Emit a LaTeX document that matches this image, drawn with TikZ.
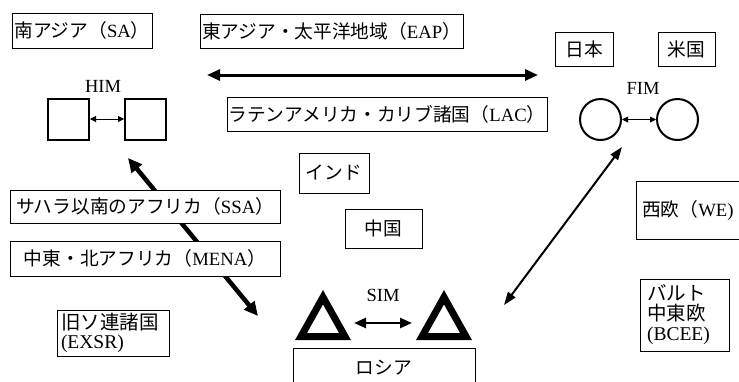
\documentclass[tikz,border=0pt]{standalone}
\usepackage{fontspec}
\setmainfont{Liberation Serif}
\newfontfamily\jp{Noto Sans CJK JP}
\usetikzlibrary{arrows.meta}
\newcommand\J[1]{{\jp #1}}
\begin{document}
\begin{tikzpicture}[x=1pt,y=-1pt,
  box/.style={draw, line width=0.9pt, fill=white, inner sep=0pt, font=\fontsize{18.7}{20}\selectfont},
  mbox/.style={box, font=\fontsize{19.5}{20}\selectfont},
  lbl/.style={inner sep=0pt, font=\fontsize{18.5}{20}\selectfont},
  sq/.style={draw, line width=2pt, minimum width=41pt, minimum height=41pt, inner sep=0pt},
  circ/.style={draw, circle, line width=2pt, minimum size=41pt, inner sep=0pt},
  tri/.style={line width=7pt, line join=miter},
  small/.style={line width=0.8pt, {Triangle[length=6pt,width=6pt]}-{Triangle[length=6pt,width=6pt]}},
  longarrow/.style={line width=3pt, {Triangle[length=13pt,width=11pt]}-{Triangle[length=13pt,width=11pt]}},
  himarrow/.style={line width=4.5pt, {Triangle[length=14pt,width=13pt]}-{Triangle[length=14pt,width=13pt]}},
  fimarrow/.style={line width=2pt, {Triangle[length=13pt,width=9pt]}-{Triangle[length=13pt,width=9pt]}},
  simarrow/.style={line width=2.5pt, {Triangle[length=12pt,width=10pt]}-{Triangle[length=12pt,width=10pt]}}
]
\clip (0,0) rectangle (739,381);
\fill[white] (0,0) rectangle (739,381);

% free connector ends
\coordinate (lal) at (207,75);
\coordinate (lar) at (538,75);
\coordinate (hima) at (128,158);
\coordinate (himb) at (258,316);
\coordinate (fima) at (622,147);
\coordinate (fimb) at (504,305);
\coordinate (sima) at (354,323);
\coordinate (simb) at (412,323);

% arrows drawn first (boxes cover them)
\draw[himarrow] (hima) -- (himb);
\draw[longarrow] (lal) -- (lar);
\draw[fimarrow] (fima) -- (fimb);
\draw[simarrow] (sima) -- (simb);

% boxes
\node[box, minimum width=140pt, minimum height=35pt] (sa) at (82,30.5) {\J{南アジア（}SA\J{）}};
\node[box, minimum width=263pt, minimum height=34pt] (eap) at (331.5,31) {\J{東アジア・太平洋地域（}EAP\J{）}};
\node[box, minimum width=58pt, minimum height=34pt] (jpn) at (584,49) {\J{日本}};
\node[box, minimum width=57pt, minimum height=34pt] (usa) at (686.5,49) {\J{米国}};
\node[box, minimum width=320pt, minimum height=34pt] (lac) at (387,114) {\J{ラテンアメリカ・カリブ諸国（}LAC\J{）}};
\node[box, minimum width=70pt, minimum height=40pt] (ind) at (334,173) {\J{インド}};
\node[box, minimum width=270pt, minimum height=33pt] (ssa) at (145,206.5) {\J{サハラ以南のアフリカ（}SSA\J{）}};
\node[box, minimum width=270pt, minimum height=35pt] (mena) at (145,258.5) {\J{中東・北アフリカ（}MENA\J{）}};
\node[box, minimum width=77pt, minimum height=39pt] (chn) at (383.5,228.5) {\J{中国}};
% west Europe box runs off the right edge
\draw[line width=0.9pt, fill=white] (636,181) rectangle (760,239);
\node[lbl, anchor=west, font=\fontsize{18.7}{20}\selectfont] (we) at (642,210) {\J{西欧（}WE)};
\node[mbox, inner xsep=7pt, text width=75pt, align=left, minimum height=72pt] (bcee) at (684.5,315) {\J{バルト}\\\J{中東欧}\\(BCEE)};
\node[mbox, inner xsep=4pt, text width=104pt, align=left, minimum height=46pt, font=\fontsize{19.5}{19}\selectfont] (exsr) at (113,333) {\J{旧ソ連諸国}\\(EXSR)};
\node[box, minimum width=182pt, minimum height=40pt] (rus) at (384,368) {\J{ロシア}};

% HIM
\node[lbl] (him) at (103,86) {HIM};
\node[sq] (sql) at (68.5,119) {};
\node[sq] (sqr) at (145.5,119) {};
\draw[small] (sql.east) -- (sqr.west);

% FIM
\node[lbl] (fim) at (643,88) {FIM};
\node[circ] (cl) at (600.5,119.5) {};
\node[circ] (cr) at (677.5,119.5) {};
\draw[small] (cl.east) -- (cr.west);

% SIM
\node[lbl] (sim) at (383,295) {SIM};
\draw[tri] (323,297.2) -- (301,336.5) -- (345,336.5) -- cycle;
\draw[tri] (444,297.2) -- (422,336.5) -- (466,336.5) -- cycle;
\end{tikzpicture}
\end{document}
